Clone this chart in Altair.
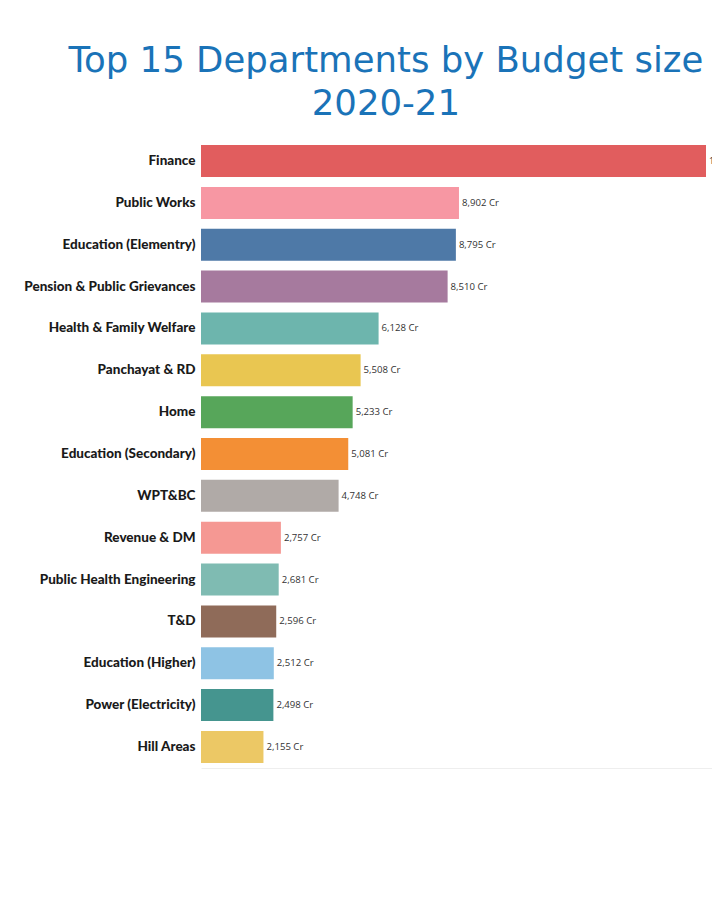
import altair as alt
import pandas as pd

departments = [
    "Finance", "Public Works", "Education (Elementry)", "Pension & Public Grievances",
    "Health & Family Welfare", "Panchayat & RD", "Home", "Education (Secondary)",
    "WPT&BC", "Revenue & DM", "Public Health Engineering", "T&D",
    "Education (Higher)", "Power (Electricity)", "Hill Areas",
]
budget_cr = [17426, 8902, 8795, 8510, 6128, 5508, 5233, 5081, 4748, 2757, 2681, 2596, 2512, 2498, 2155]
colors = [
    "#e15d5e", "#f797a3", "#4e79a7", "#a67a9e", "#6db5ad", "#e9c651", "#57a65a", "#f38f35",
    "#b0aaa7", "#f59893", "#7fbbb2", "#8f6b59", "#8ec3e4", "#45958f", "#ecc865",
]

df = pd.DataFrame({"dept": departments, "budget": budget_cr, "color": colors})
df["label"] = df["budget"].map(lambda v: f"{v:,} Cr")

y_enc = alt.Y("dept:N", sort=departments, title=None,
              scale=alt.Scale(paddingInner=0.235, paddingOuter=0.12),
              axis=alt.Axis(domain=False, ticks=False, labelPadding=6, labelLimit=0,
                            labelFont="Lato", labelFontWeight=900, labelFontSize=13.5,
                            labelColor="#1a1a1a"))
x_enc = alt.X("budget:Q", title=None,
              scale=alt.Scale(domain=[0, 17633], nice=False, zero=True),
              axis=alt.Axis(labels=False, ticks=False, grid=False, domainColor="#eeeeee"))

bars = alt.Chart(df).mark_bar(clip=True).encode(
    y=y_enc, x=x_enc, color=alt.Color("color:N", scale=None)
)
texts = alt.Chart(df).mark_text(align="left", baseline="middle", dx=3, fontSize=9.6,
                                font="Open Sans, sans-serif", color="#333333", clip=True).encode(
    y=alt.Y("dept:N", sort=departments), x=alt.X("budget:Q"), text="label:N"
)

chart = alt.layer(bars, texts).properties(
    width=511, height=628,
    title=alt.TitleParams(["Top 15 Departments by Budget size", "2020-21"],
                          font="DejaVu Sans", fontSize=35.5, fontWeight="normal",
                          color="#1a73b8", anchor="middle", frame="bounds", dx=18,
                          lineHeight=43, offset=18),
    autosize=alt.AutoSizeParams(type="none"),
    padding={"left": 193, "top": 132, "right": 0, "bottom": 10},
).configure_view(stroke=None)

chart.save("out.html", embed_options={"renderer": "svg", "actions": False})
